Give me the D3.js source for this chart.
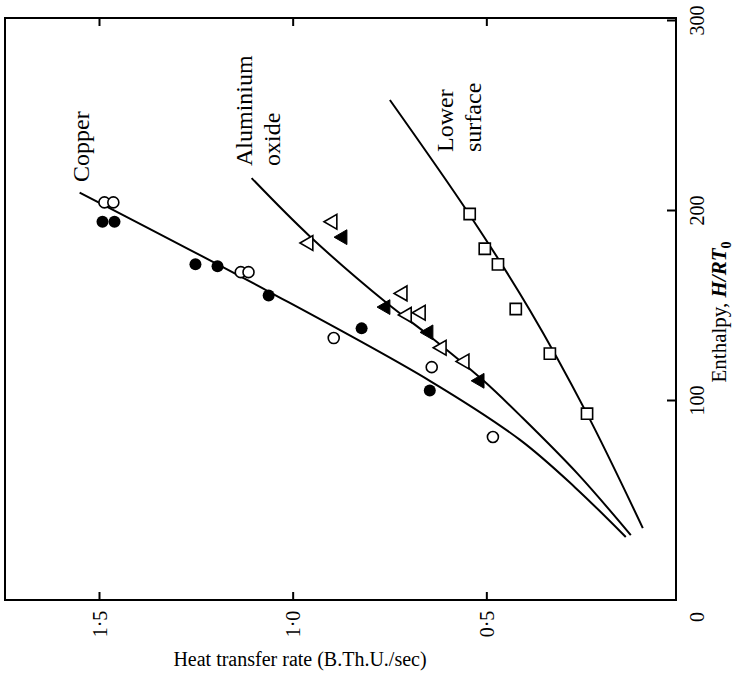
<!DOCTYPE html>
<html>
<head>
<meta charset="utf-8">
<script src="https://cdn.jsdelivr.net/npm/d3@7"></script>
<style>
  body { margin: 0; background: #fff; }
  svg { display: block; font-family: "Liberation Serif", "Times New Roman", serif; }
</style>
</head>
<body>
<div id="chart"></div>
<script>
// Data: [heat transfer rate (B.Th.U./sec), enthalpy H/RT0]
const copperOpen = [[1.486, 204], [1.463, 204], [1.134, 167.3], [1.114, 167.3], [0.894, 132.6], [0.641, 117.3], [0.483, 80.5]];
const copperFilled = [[1.491, 193.8], [1.460, 193.8], [1.251, 171.4], [1.194, 170.4], [1.062, 155], [0.822, 137.7], [0.646, 105]];
const aluminaOpen = [[0.897, 193.8], [0.959, 182.6], [0.716, 156.1], [0.669, 145.9], [0.705, 144.8], [0.615, 127.5], [0.556, 120.3]];
const aluminaFilled = [[0.871, 185.7], [0.760, 148.9], [0.649, 135.6], [0.517, 110.1]];
const lowerSquares = [[0.543, 197.9], [0.504, 179.6], [0.470, 171.4], [0.424, 147.9], [0.336, 124.4], [0.240, 92.8]];

// fitted curves
const copperFit = [[1.550, 209.2], [1.062, 157.1], [0.646, 110.1], [0.413, 79], [0.271, 54], [0.140, 27.9]];
const aluminaFit = [[1.106, 216.8], [0.956, 186.2], [0.757, 151], [0.646, 133.6], [0.509, 110.5], [0.406, 90.5], [0.264, 61.1], [0.127, 28.9]];
const lowerFit = [[0.749, 257.9], [0.543, 197.4], [0.388, 147.4], [0.240, 92.7], [0.096, 32.6]];

const xTicks = [0.5, 1.0, 1.5];
const xTickLabels = ["0·5", "1·0", "1·5"];
const yTicks = [100, 200, 300];

const width = 740, height = 680;
const frame = { left: 5, right: 676, top: 18, bottom: 600 };

const svg = d3.select("#chart").append("svg")
    .attr("width", width)
    .attr("height", height);

svg.append("rect").attr("width", width).attr("height", height).attr("fill", "#fff");

const x = d3.scaleLinear().domain([0, 1.5]).range([680, 99]);
const y = d3.scaleLinear().domain([0, 300]).range([590, 20]);

// frame
svg.append("rect")
    .attr("x", frame.left).attr("y", frame.top)
    .attr("width", frame.right - frame.left)
    .attr("height", frame.bottom - frame.top)
    .attr("fill", "none").attr("stroke", "#000").attr("stroke-width", 2);

// bottom axis
const gx = svg.append("g")
    .attr("transform", `translate(0,${frame.bottom})`)
    .call(d3.axisBottom(x).tickValues(xTicks).tickSize(-8).tickSizeOuter(0)
        .tickFormat((d, i) => xTickLabels[i]));
gx.select(".domain").remove();
gx.selectAll("line").attr("stroke-width", 2);
gx.selectAll("text")
    .attr("transform", "rotate(-90)")
    .attr("x", -24).attr("y", 0).attr("dy", "0.35em")
    .attr("text-anchor", "middle")
    .style("font-size", "20px").style("font-family", "Liberation Serif, serif");

// top axis, ticks only
const gt = svg.append("g")
    .attr("transform", `translate(0,${frame.top})`)
    .call(d3.axisTop(x).tickValues(xTicks).tickSize(-8).tickSizeOuter(0).tickFormat(""));
gt.select(".domain").remove();
gt.selectAll("line").attr("stroke-width", 2);

// right axis
const gy = svg.append("g")
    .attr("transform", `translate(${frame.right},0)`)
    .call(d3.axisRight(y).tickValues(yTicks).tickSize(-9).tickSizeOuter(0));
gy.select(".domain").remove();
gy.selectAll("line").attr("stroke-width", 2);
gy.selectAll("text")
    .attr("transform", "rotate(-90)")
    .attr("x", 0).attr("y", 21).attr("dy", "0.35em")
    .attr("text-anchor", "middle")
    .style("font-size", "20px").style("font-family", "Liberation Serif, serif");

// shared zero at the corner
svg.append("text")
    .attr("transform", `translate(${x(0) + 17},${frame.bottom + 17}) rotate(-90)`)
    .attr("dy", "0.35em").attr("text-anchor", "middle")
    .style("font-size", "20px")
    .text("0");

// axis titles
svg.append("text")
    .attr("x", 300).attr("y", 666)
    .attr("text-anchor", "middle")
    .style("font-size", "20px")
    .text("Heat transfer rate (B.Th.U./sec)");

const yt = svg.append("text")
    .attr("transform", "translate(726,312) rotate(-90)")
    .attr("text-anchor", "middle")
    .style("font-size", "21px");
yt.append("tspan").text("Enthalpy, ");
yt.append("tspan").style("font-style", "italic").style("font-weight", "bold").text("H/RT");
yt.append("tspan").attr("dy", 5).style("font-size", "14px").style("font-weight", "bold").text("0");

// fitted curves
const line = d3.line()
    .x(d => x(d[0]))
    .y(d => y(d[1]))
    .curve(d3.curveCatmullRom);

[copperFit, aluminaFit, lowerFit].forEach(fit => {
    svg.append("path")
        .datum(fit)
        .attr("d", line)
        .attr("fill", "none")
        .attr("stroke", "#000")
        .attr("stroke-width", 2);
});

// markers
svg.selectAll(".cOpen").data(copperOpen).enter().append("circle")
    .attr("cx", d => x(d[0])).attr("cy", d => y(d[1])).attr("r", 5.5)
    .attr("fill", "#fff").attr("stroke", "#000").attr("stroke-width", 1.6);

svg.selectAll(".cFill").data(copperFilled).enter().append("circle")
    .attr("cx", d => x(d[0])).attr("cy", d => y(d[1])).attr("r", 6)
    .attr("fill", "#000");

const tri = d3.symbol().type(d3.symbolTriangle).size(95);
svg.selectAll(".aOpen").data(aluminaOpen).enter().append("path")
    .attr("d", tri)
    .attr("transform", d => `translate(${x(d[0])},${y(d[1])}) rotate(-90)`)
    .attr("fill", "#fff").attr("stroke", "#000").attr("stroke-width", 1.6);

svg.selectAll(".aFill").data(aluminaFilled).enter().append("path")
    .attr("d", tri)
    .attr("transform", d => `translate(${x(d[0])},${y(d[1])}) rotate(-90)`)
    .attr("fill", "#000").attr("stroke", "#000").attr("stroke-width", 1);

const sq = d3.symbol().type(d3.symbolSquare).size(125);
svg.selectAll(".lSq").data(lowerSquares).enter().append("path")
    .attr("d", sq)
    .attr("transform", d => `translate(${x(d[0])},${y(d[1])})`)
    .attr("fill", "#fff").attr("stroke", "#000").attr("stroke-width", 1.6);

// series labels, rotated
function label(lines, px, py) {
    lines.forEach((t, i) => {
        svg.append("text")
            .attr("transform", `translate(${px + i * 28},${py}) rotate(-90)`)
            .attr("text-anchor", "start")
            .style("font-size", "24px")
            .text(t);
    });
}
label(["Copper"], 89, 182);
label(["Aluminium", "oxide"], 252, 166);
label(["Lower", "surface"], 453, 152);
</script>
</body>
</html>
